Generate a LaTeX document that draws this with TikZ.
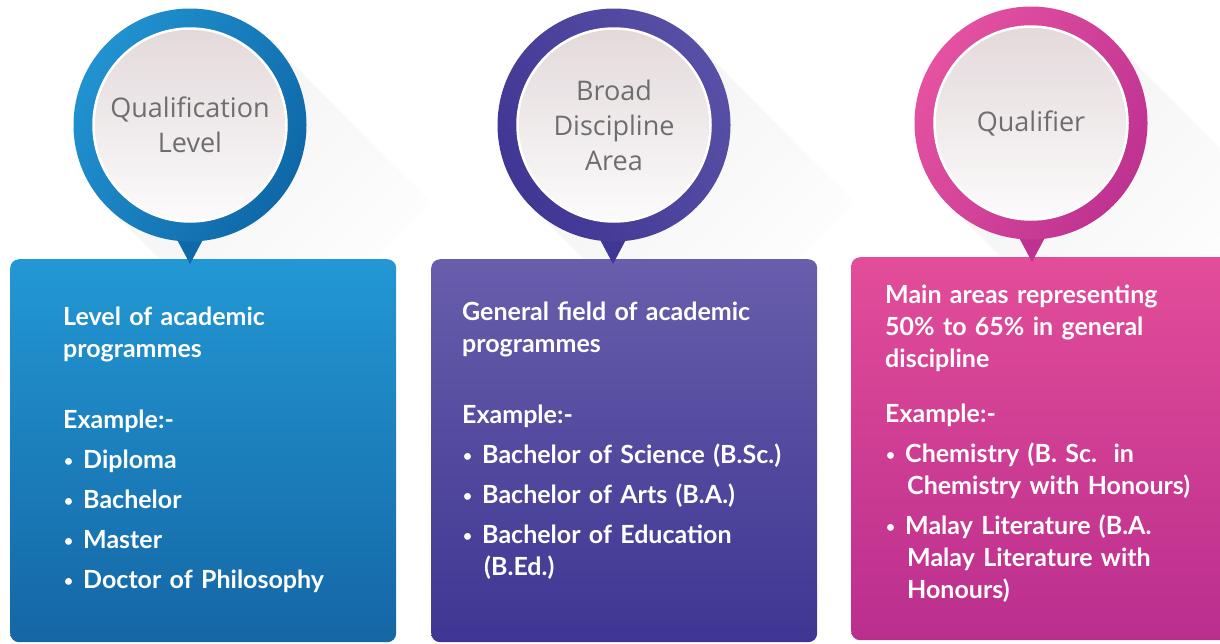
\documentclass[tikz,border=0pt]{standalone}
\usepackage{fontspec}
\setmainfont{Lato}
\newfontfamily\titlefont{Open Sans}
\usetikzlibrary{positioning,fadings}

\definecolor{qlTop}{RGB}{34,152,212}
\definecolor{qlBot}{RGB}{21,102,165}
\definecolor{qlRing}{RGB}{33,146,208}
\definecolor{qlRingDk}{RGB}{15,104,168}
\definecolor{bdTop}{RGB}{104,94,172}
\definecolor{bdBot}{RGB}{62,54,146}
\definecolor{bdRing}{RGB}{88,80,166}
\definecolor{bdRingDk}{RGB}{64,54,148}
\definecolor{qfTop}{RGB}{227,77,153}
\definecolor{qfBot}{RGB}{186,46,142}
\definecolor{qfRing}{RGB}{228,82,160}
\definecolor{qfRingDk}{RGB}{190,50,145}
\definecolor{discTop}{RGB}{227,217,219}
\definecolor{discBot}{RGB}{252,251,251}
\definecolor{labelgray}{RGB}{110,110,110}

\newcommand{\itembullet}{\makebox[20pt][l]{\hspace{1pt}\raisebox{1.5pt}{\scalebox{0.62}{\textbullet}}}}
\newcommand{\itemhang}{\hspace*{22pt}}

\begin{document}
\begin{tikzpicture}[x=1pt,y=-1pt,
    ring/.style={circle, inner sep=0pt, minimum size=233pt},
    disc/.style={circle, inner sep=0pt, minimum size=193pt, draw=white,
      line width=2.5pt, top color=discTop, bottom color=discBot},
    title/.style={font=\titlefont\fontsize{27}{35}\selectfont,
      text=labelgray, align=center},
    card/.style={anchor=north west, rounded corners=9pt, inner sep=0pt,
      minimum width=386pt, minimum height=383pt},
    body/.style={anchor=base west, inner sep=0pt, text width=340pt,
      align=left, text=white, font=\fontsize{25}{32}\selectfont\bfseries},
    pointer/.style={line join=round},
    longshadow/.style={fill=black, opacity=0.05, path fading=east, fading angle=-45}]
  \useasboundingbox (0,0) rectangle (1220,643);

  % Long shadows behind the badges
  \fill[longshadow] (272,43) -- (432,203) -- (268,367) -- (108,207) -- cycle;
  \fill[longshadow] (696,43) -- (856,203) -- (692,367) -- (532,207) -- cycle;
  \fill[longshadow] (1113,41) -- (1273,201) -- (1109,365) -- (949,205) -- cycle;

  % Cards
  \node[card, top color=qlTop, bottom color=qlBot] (qlcard) at (10,259) {};
  \node[card, top color=bdTop, bottom color=bdBot] (bdcard) at (431,259) {};
  \node[card, top color=qfTop, bottom color=qfBot] (qfcard) at (851,257) {};

  % Pointers from badge to card
  \coordinate (qltip) at (190,264);
  \coordinate (bdtip) at (613,264);
  \coordinate (qftip) at (1032,262);
  \fill[pointer, qlRingDk] (173,232) -- (207,232) -- (qltip) -- cycle;
  \fill[pointer, bdRingDk] (596,232) -- (630,232) -- (bdtip) -- cycle;
  \fill[pointer, qfRingDk] (1015,230) -- (1049,230) -- (qftip) -- cycle;

  % Badges
  \node[ring, left color=qlRing, right color=qlRingDk, shading angle=60] (qlring) at (190,125) {};
  \node[disc] (qldisc) at (qlring) {};
  \node[title] (qltitle) at (qldisc) {Qualification\\Level};

  \node[ring, left color=bdRingDk, right color=bdRing, shading angle=120] (bdring) at (614,125) {};
  \node[disc] (bddisc) at (bdring) {};
  \node[title] (bdtitle) at (bddisc) {Broad\\Discipline\\Area};

  \node[ring, left color=qfRing, right color=qfRingDk, shading angle=60] (qfring) at (1031,123) {};
  \node[disc] (qfdisc) at (qfring) {};
  \node[title] (qftitle) at (qfdisc) {Qualifier};

  % Card texts
  \node[body] (qltext) at (63,325) {Level of academic\\programmes\\[39pt]
    Example:-\\[8pt]
    \itembullet Diploma\\[8pt]
    \itembullet Bachelor\\[8pt]
    \itembullet Master\\[8pt]
    \itembullet Doctor of Philosophy};
  \node[body] (bdtext) at (462,320) {General field of academic\\programmes\\[39pt]
    Example:-\\[8pt]
    \itembullet Bachelor of Science (B.Sc.)\\[8pt]
    \itembullet Bachelor of Arts (B.A.)\\[8pt]
    \itembullet Bachelor of Education\\
    \itemhang(B.Ed.)};
  \node[body] (qftext) at (885,303) {Main areas representing\\50\% to 65\% in general\\discipline\\[23pt]
    Example:-\\[8pt]
    \itembullet Chemistry (B. Sc.\ \ in\\
    \itemhang Chemistry with Honours)\\[8pt]
    \itembullet Malay Literature (B.A.\\
    \itemhang Malay Literature with\\
    \itemhang Honours)};
\end{tikzpicture}
\end{document}
